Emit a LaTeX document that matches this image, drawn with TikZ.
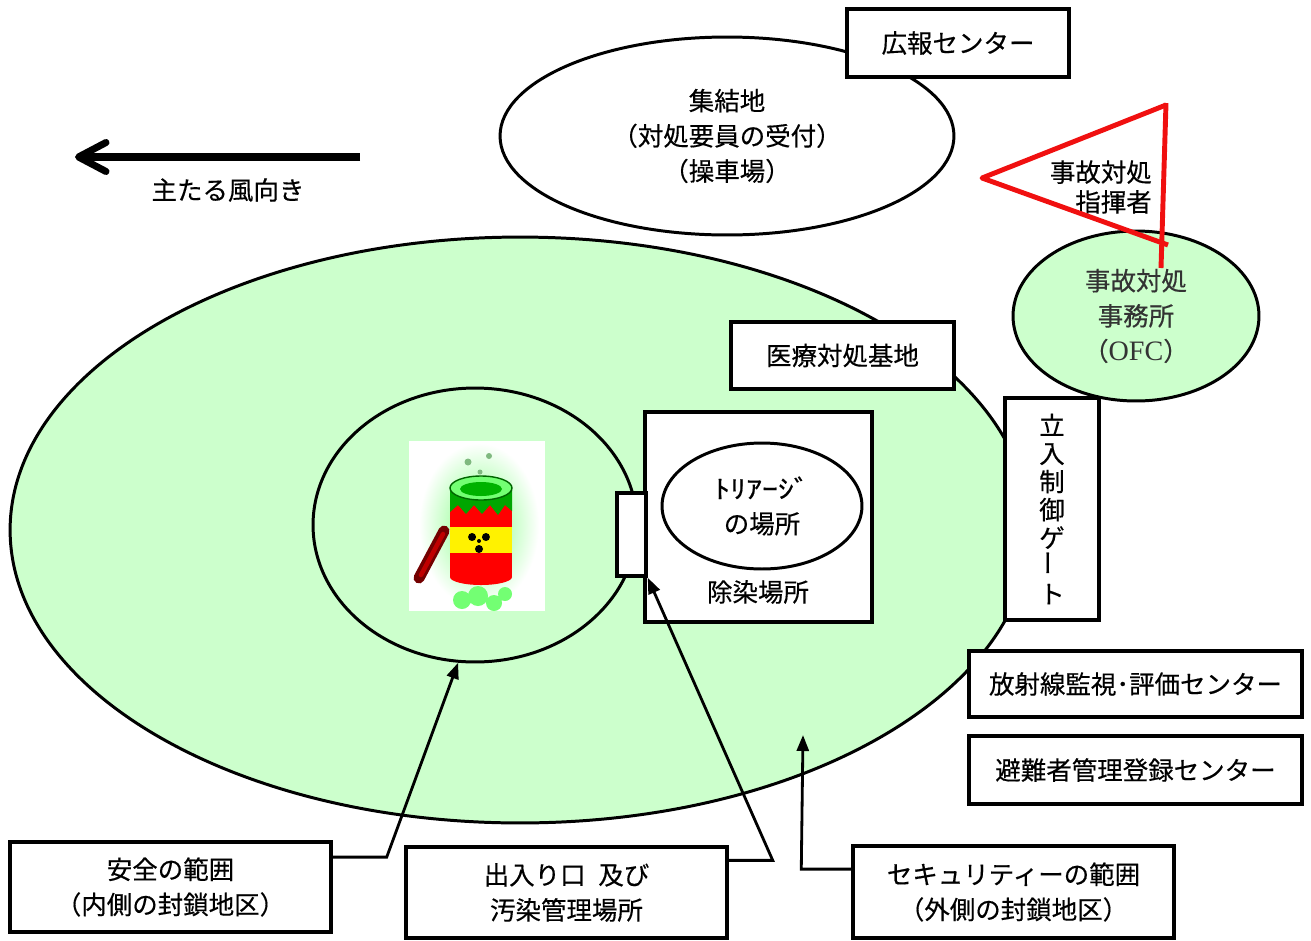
\documentclass[tikz,border=0pt]{standalone}
\usepackage{fontspec}
\newfontfamily\jp{Noto Sans CJK JP}[FakeBold=0.4]
\newfontfamily\lat{Liberation Serif}
\usetikzlibrary{positioning,arrows.meta,shapes.geometric,calc}
\definecolor{zonegreen}{HTML}{CCFFCC}
\definecolor{flagred}{HTML}{F01010}

\begin{document}
\begin{tikzpicture}[
  x=0.02cm, y=-0.02cm,
  every node/.style={font=\jp\fontsize{14.5}{20}\selectfont},
  zone/.style={draw, ellipse, line width=1.7pt, inner sep=0pt, align=center},
  facility/.style={draw, fill=white, line width=2pt, inner sep=0pt, align=center},
  pointer/.style={-{Triangle[length=0.32cm,width=0.24cm]}, line width=1.6pt},
  wind/.style={-{Straight Barb[length=0.55cm,width=0.58cm,round]}, line width=4pt},
  redflag/.style={draw=flagred, line width=2.8pt, line join=round}
]
  \useasboundingbox (0,0) rectangle (1311,940);

  % security zone (outer cordon)
  \node[zone, fill=zonegreen, minimum width=20.4cm, minimum height=11.72cm] (outer) at (520,530) {};

  % wind direction
  \coordinate (windfrom) at (360,157);
  \coordinate (windto)   at (75,157);
  \draw[wind] (windfrom) -- (windto);
  \node (windlabel) at (228,190) {主たる風向き};

  % assembly area + press centre
  \node[zone, fill=white, minimum width=9.08cm, minimum height=3.96cm] (assembly) at (727,136)
    {集結地\\（対処要員の受付）\\（操車場）};
  \node[facility, minimum width=4.44cm, minimum height=1.36cm] (press) at (958,43) {広報センター};

  % off-site centre and commander flag
  \node[zone, fill=zonegreen, minimum width=4.92cm, minimum height=3.4cm, text=black!80] (ofc) at (1136,316)
    {事故対処\\事務所\\（{\lat\fontsize{16}{20}\selectfont OFC}）};
  \node[align=right, anchor=east, font=\jp\fontsize{14.5}{17}\selectfont] (chief) at (1158,187) {事故対処\\指揮者};
  \draw[redflag] (1166,105) -- (982,178) -- (1168,245);
  \draw[redflag] (1166,103) -- (1161,268);

  % safety zone (inner cordon)
  \node[zone, fill=zonegreen, minimum width=6.48cm, minimum height=5.48cm] (inner) at (475,525) {};

  % drum
  \fill[white] (409,441) rectangle (545,611);
  \shade[inner color=green!50, outer color=white] (479,525) ellipse [x radius=60, y radius=82];
  \draw[line width=0.22cm, red!45!black, line cap=round] (444,531) -- (419,578);
  \draw[line width=0.09cm, red!75!black, line cap=round] (443,534) -- (421,575);
  \fill[green!55] (462,600) circle [radius=9] (478,596) circle [radius=10]
                  (494,603) circle [radius=8] (505,594) circle [radius=7];
  \fill[red] (450,492) rectangle (512,577);
  \fill[red] (481,577) ellipse [x radius=31, y radius=8];
  \fill[yellow] (450,527) rectangle (512,553);
  \fill[green!65!black] (450,490) -- (512,490) -- (512,511) -- (505,505) -- (498,515) -- (490,505)
    -- (482,514) -- (474,505) -- (466,514) -- (458,505) -- (450,512) -- cycle;
  \filldraw[fill=green!55, draw=green!40!black, line width=0.8pt] (481,488) ellipse [x radius=31, y radius=12];
  \fill[green!70!black] (481,489) ellipse [x radius=21, y radius=7];
  \fill (479,541) circle [radius=2];
  \foreach \ang in {90,210,330}
    \fill (479,541) ++(\ang:8) circle [radius=4];
  \fill[green!45!black!50] (468,462) circle [radius=3.5] (489,456) circle [radius=3]
                           (480,472) circle [radius=2.5];

  % decontamination area
  \node[facility, minimum width=4.54cm, minimum height=4.2cm] (decon) at (758.5,517) {};
  \node[zone, fill=white, minimum width=4cm, minimum height=2.52cm] (triage) at (762,506)
    {\scalebox{1.25}[1]{ﾄﾘｱｰｼﾞ}\\の場所};
  \node (deconlabel) at (758,592) {除染場所};
  \node[facility, minimum width=0.58cm, minimum height=1.66cm] (entrance) at (631.5,534.5) {};

  % facilities along the cordon
  \node[facility, minimum width=4.46cm, minimum height=1.34cm] (medical) at (842.5,355.5) {医療対処基地};
  \node[facility, minimum width=1.88cm, minimum height=4.44cm, font=\jp\fontsize{14.5}{16}\selectfont] (gate) at (1052,509)
    {立\\入\\制\\御\\ゲ\\\rotatebox{90}{ー}\\ト};
  \node[facility, minimum width=6.66cm, minimum height=1.32cm] (radcentre) at (1135.5,684) {放射線監視･評価センター};
  \node[facility, minimum width=6.66cm, minimum height=1.36cm] (evaccentre) at (1135.5,770) {避難者管理登録センター};

  % legend boxes
  \node[facility, minimum width=6.42cm, minimum height=1.8cm] (safe) at (170.5,887) {安全の範囲\\（内側の封鎖地区）};
  \node[facility, minimum width=6.42cm, minimum height=1.82cm] (entry) at (566.5,892.5) {出入り口\hspace{0.5em}及び\\汚染管理場所};
  \node[facility, minimum width=6.42cm, minimum height=1.84cm] (security) at (1013.5,892) {セキュリティーの範囲\\（外側の封鎖地区）};

  \coordinate (outertip) at (803,735);
  \draw[pointer] ($(safe.north east)!0.18!(safe.south east)$) -- ++(54,0) -- (inner.263);
  \draw[pointer] ($(entry.north east)!0.16!(entry.south east)$) -- ++(44,0) -- (entrance.south east);
  \draw[pointer] ($(security.north west)!0.26!(security.south west)$) -- ++(-50,0) -- (outertip);
\end{tikzpicture}
\end{document}
